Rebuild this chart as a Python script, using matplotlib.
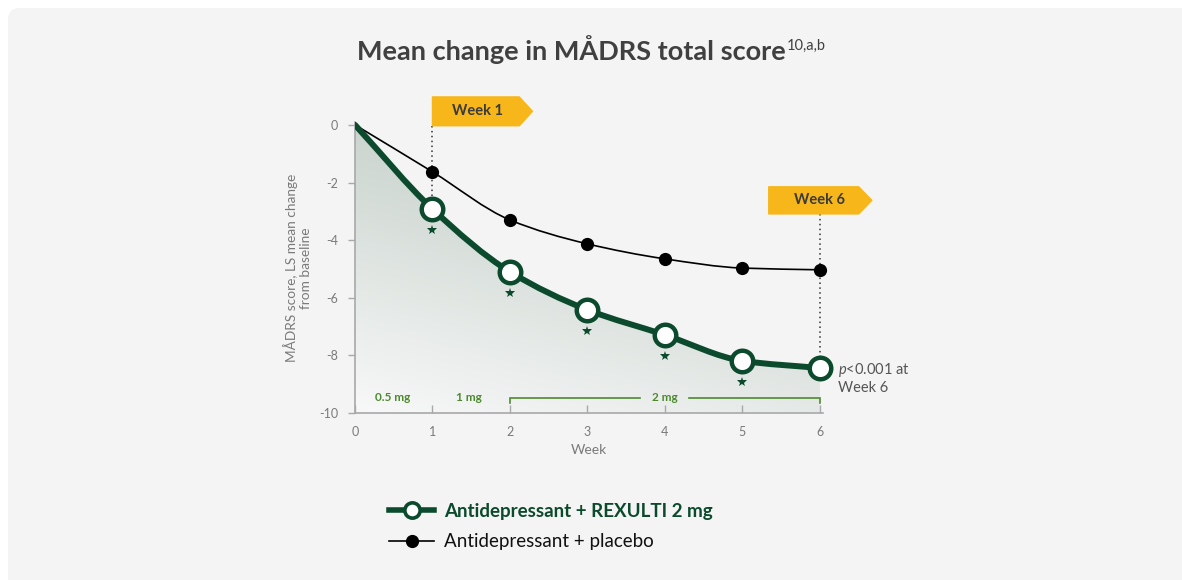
import numpy as np
import matplotlib
matplotlib.use("Agg")
import matplotlib.pyplot as plt
from matplotlib.path import Path
from matplotlib.patches import PathPatch, FancyBboxPatch, Polygon
from matplotlib.lines import Line2D
from matplotlib.transforms import offset_copy

plt.rcParams["font.family"] = ["Lato", "DejaVu Sans"]
plt.rcParams["mathtext.fontset"] = "custom"
plt.rcParams["mathtext.rm"] = "Lato"
plt.rcParams["mathtext.it"] = "Lato:italic"
plt.rcParams["axes.unicode_minus"] = False

# data
weeks = [0, 1, 2, 3, 4, 5, 6]
rexulti = [0.0, -2.92, -5.1, -6.42, -7.29, -8.19, -8.44]
placebo = [0.0, -1.63, -3.3, -4.13, -4.65, -4.97, -5.03]
star_weeks = [1, 2, 3, 4, 5]
dose_labels = ["0.5 mg", "1 mg", "2 mg"]
dose_x = [0.48, 1.47, 4.0]
y_ticks = [0, -2, -4, -6, -8, -10]

GREEN = "#0b4a2c"
DOSE_GREEN = "#4c8a2e"
YELLOW = "#f7b619"
GREY_TXT = "#7a7a7a"
PANEL = "#f4f4f4"


def smooth_path(x, y, close_to=None):
    """Monotone cubic (Fritsch-Carlson) through the points, as bezier segments."""
    x = np.asarray(x, float)
    y = np.asarray(y, float)
    h = np.diff(x)
    d = np.diff(y) / h
    m = np.zeros_like(y)
    m[0], m[-1] = d[0], d[-1]
    for i in range(1, len(y) - 1):
        if d[i - 1] * d[i] > 0:
            m[i] = 2 / (1 / d[i - 1] + 1 / d[i])
    verts = [(x[0], y[0])]
    codes = [Path.MOVETO]
    for i in range(len(h)):
        verts += [(x[i] + h[i] / 3, y[i] + m[i] * h[i] / 3),
                  (x[i + 1] - h[i] / 3, y[i + 1] - m[i + 1] * h[i] / 3),
                  (x[i + 1], y[i + 1])]
        codes += [Path.CURVE4] * 3
    if close_to is not None:
        verts += [(x[-1], close_to), (x[0], close_to), (x[0], y[0])]
        codes += [Path.LINETO, Path.LINETO, Path.CLOSEPOLY]
    return Path(verts, codes)


fig = plt.figure(figsize=(11.82, 5.8), dpi=100, facecolor="white")

# background panel, in pixel coordinates
bg = fig.add_axes([0, 0, 1, 1], zorder=-5)
bg.set_xlim(0, 1182)
bg.set_ylim(580, 0)
bg.set_axis_off()
bg.add_patch(FancyBboxPatch((8, 8), 1200, 600, boxstyle="round,pad=0,rounding_size=12",
                            fc=PANEL, ec="none"))

ax = fig.add_axes([355 / 1182, 1 - 413 / 580, 468 / 1182, 291 / 580])
ax.patch.set_visible(False)
ax.set_xlim(0, 6.04)
ax.set_ylim(-10, 0.1)

# gradient fill under the REXULTI curve
gx, gy = np.meshgrid(np.linspace(0, 6, 300), np.linspace(0, -10, 300))
t = np.clip((gy / 10 + 1) * 0.85 + (gx / 6) * 0.35, 0, 1)[..., None]
dark = np.array([0.76, 0.805, 0.78])
light = np.array([0.972, 0.974, 0.973])
img = light + (dark - light) * t
im = ax.imshow(img, extent=(0, 6, -10, 0), aspect="auto", zorder=1, interpolation="bilinear")
clip = PathPatch(smooth_path(weeks, rexulti, close_to=-10), fc="none", ec="none",
                 transform=ax.transData)
ax.add_patch(clip)
im.set_clip_path(clip)

# dotted guide lines under the flags
ax.plot([1, 1], [-0.03, rexulti[1]], ls=(0, (1, 2.2)), color="#333333", lw=1.1, zorder=2,
        clip_on=False)
ax.plot([6, 6], [-3.09, rexulti[6]], ls=(0, (1, 2.2)), color="#333333", lw=1.1, zorder=2,
        clip_on=False)

# placebo curve
ax.add_patch(PathPatch(smooth_path(weeks, placebo), fc="none", ec="black", lw=1.2,
                       zorder=3, capstyle="round"))
ax.plot(weeks[1:], placebo[1:], "o", color="black", ms=8.5, zorder=4, clip_on=False)

# REXULTI curve
ax.add_patch(PathPatch(smooth_path(weeks, rexulti), fc="none", ec=GREEN, lw=4.3,
                       zorder=5, capstyle="round"))
ax.plot(weeks[1:], rexulti[1:], "o", mfc="white", mec=GREEN, mew=3.2, ms=15.5, zorder=6,
        clip_on=False)

star_tr = offset_copy(ax.transData, fig=fig, x=0, y=-21, units="dots")
ax.plot(star_weeks, [rexulti[w] for w in star_weeks], "*", color=GREEN, ms=7.5, mew=0,
        transform=star_tr, zorder=6)

# dose annotations
for lab, x in zip(dose_labels, dose_x):
    ax.text(x, -9.45, lab, color=DOSE_GREEN, fontsize=8.5, fontweight="bold",
            ha="center", va="center", zorder=7)
ax.plot([2, 2, 3.68], [-9.64, -9.48, -9.48], color=DOSE_GREEN, lw=1.2, zorder=7,
        solid_joinstyle="miter")
ax.plot([4.31, 6, 6], [-9.48, -9.48, -9.64], color=DOSE_GREEN, lw=1.2, zorder=7,
        solid_joinstyle="miter")


# flags
def flag(x0, x1, xtip, y0, y1, label, xt):
    ym = (y0 + y1) / 2
    ax.add_patch(Polygon([(x0, y0), (x1, y0), (xtip, ym), (x1, y1), (x0, y1)], closed=True,
                         fc=YELLOW, ec=YELLOW, lw=1, joinstyle="round", zorder=8,
                         clip_on=False))
    ax.text(xt, ym, label, ha="center", va="center", fontsize=10.5, fontweight="bold",
            color="#3b3b3b", zorder=9, clip_on=False)


flag(1.0, 2.12, 2.29, 0.97, -0.03, "Week 1", 1.58)
flag(5.34, 6.5, 6.67, -2.15, -3.09, "Week 6", 6.0)

ax.text(6.23, -8.52, r"$\mathit{p}$<0.001 at", fontsize=10.5, color="#555555",
        ha="left", va="center")
ax.text(6.23, -9.14, "Week 6", fontsize=10.5, color="#555555", ha="left", va="center")

# axes styling
for s in ("top", "right"):
    ax.spines[s].set_visible(False)
for s in ("left", "bottom"):
    ax.spines[s].set_color("#a8a8a8")
    ax.spines[s].set_linewidth(1.2)
ax.set_yticks(y_ticks)
ax.set_xticks(weeks)
ax.tick_params(axis="y", direction="out", length=5, width=1, color="#a8a8a8",
               labelcolor=GREY_TXT, labelsize=9, pad=7)
ax.tick_params(axis="x", direction="in", length=6, width=1, color="#a8a8a8",
               labelcolor=GREY_TXT, labelsize=9, pad=9)
ax.set_xlabel("Week", fontsize=10, color=GREY_TXT, labelpad=5)

bg.text(298, 268, "MÅDRS score, LS mean change\nfrom baseline", rotation=90,
        ha="center", va="center", fontsize=9.8, color=GREY_TXT, linespacing=1.2)

# title with superscript
title = bg.text(357, 60, "Mean change in MÅDRS total score", fontsize=19.5,
                fontweight="bold", color="#404040", ha="left", va="baseline")
bg.annotate("10,a,b", xy=(1, 1), xycoords=title, xytext=(1, -13), textcoords="offset points",
            fontsize=10.5, color="#404040", ha="left", va="bottom")

# legend
handles = [
    Line2D([], [], color=GREEN, lw=4, marker="o", mfc="white", mec=GREEN, mew=2.6, ms=11),
    Line2D([], [], color="black", lw=1.2, marker="o", mfc="black", mec="black", ms=8.5),
]
leg = bg.legend(handles, ["Antidepressant + REXULTI 2 mg", "Antidepressant + placebo"],
                loc="upper left", bbox_to_anchor=(389, 503), bbox_transform=bg.transData,
                frameon=False, fontsize=13.5, handlelength=2.4, handletextpad=0.55,
                labelspacing=0.7, borderpad=0, borderaxespad=0, numpoints=1)
t0, t1 = leg.get_texts()
t0.set_color(GREEN)
t0.set_fontweight("bold")
t1.set_color("#111111")

fig.savefig("out.png", dpi=100, facecolor="white")
